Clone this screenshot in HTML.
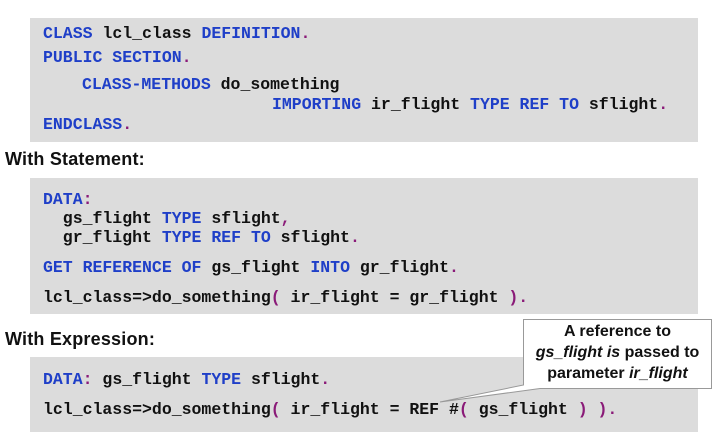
<!DOCTYPE html>
<html><head><meta charset="utf-8"><style>
body{margin:0;width:715px;height:440px;background:#fff;position:relative;overflow:hidden;font-family:"Liberation Sans",sans-serif}
.box{position:absolute;left:30px;width:668px;background:#dcdcdc}
.l{position:absolute;font-family:"Liberation Mono",monospace;font-weight:bold;font-size:16.5px;white-space:pre;color:#111;line-height:20px}
.k{color:#1f3fc8}.p{color:#8a1a78}
.h{position:absolute;left:5px;font-weight:bold;font-size:18px;color:#111;letter-spacing:0.2px}
</style></head><body>
<div class="box" style="top:18px;height:124px"></div>
<div class="box" style="top:178px;height:136px"></div>
<div class="box" style="top:357px;height:75px"></div>
<div class="l" style="left:43px;top:24px"><span class="k">CLASS</span> lcl_class <span class="k">DEFINITION</span><span class="p">.</span></div>
<div class="l" style="left:43px;top:48px"><span class="k">PUBLIC SECTION</span><span class="p">.</span></div>
<div class="l" style="left:82px;top:75px"><span class="k">CLASS-METHODS</span> do_something</div>
<div class="l" style="left:272px;top:95px"><span class="k">IMPORTING</span> ir_flight <span class="k">TYPE REF TO</span> sflight<span class="p">.</span></div>
<div class="l" style="left:43px;top:115px"><span class="k">ENDCLASS</span><span class="p">.</span></div>
<div class="h" style="top:149px">With Statement:</div>
<div class="l" style="left:43px;top:190px"><span class="k">DATA</span><span class="p">:</span></div>
<div class="l" style="left:43px;top:209px">  gs_flight <span class="k">TYPE</span> sflight<span class="p">,</span></div>
<div class="l" style="left:43px;top:228px">  gr_flight <span class="k">TYPE REF TO</span> sflight<span class="p">.</span></div>
<div class="l" style="left:43px;top:258px"><span class="k">GET REFERENCE OF</span> gs_flight <span class="k">INTO</span> gr_flight<span class="p">.</span></div>
<div class="l" style="left:43px;top:288px">lcl_class=&gt;do_something<span class="p">(</span> ir_flight = gr_flight <span class="p">).</span></div>
<div class="h" style="top:329px">With Expression:</div>
<div class="l" style="left:43px;top:370px"><span class="k">DATA</span><span class="p">:</span> gs_flight <span class="k">TYPE</span> sflight<span class="p">.</span></div>
<div class="l" style="left:43px;top:400px">lcl_class=&gt;do_something<span class="p">(</span> ir_flight = REF #<span class="p">(</span> gs_flight <span class="p">) ).</span></div>
<svg style="position:absolute;left:0;top:0" width="715" height="440">
<path d="M523.5,319.5 H711.5 V388.5 H540 L440,402 L523.5,385 Z" fill="#fff" stroke="#999" stroke-width="1"/>
</svg>
<div style="position:absolute;left:523px;top:321px;width:189px;text-align:center;font-weight:bold;font-size:16px;line-height:21px;color:#111">A reference to<br><i>gs_flight is</i> passed to<br>parameter <i>ir_flight</i></div>
</body></html>
